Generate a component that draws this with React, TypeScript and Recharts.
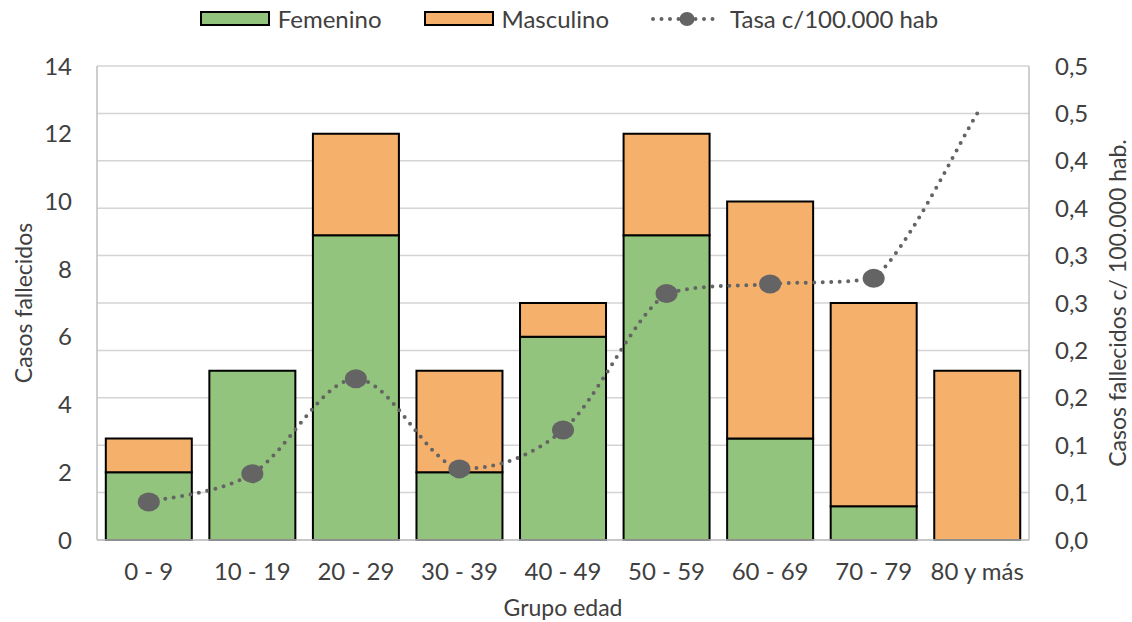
import React from 'react';
import { ComposedChart, Bar, Line, XAxis, YAxis, CartesianGrid, Legend, Label } from 'recharts';

const categories = ['0 - 9', '10 - 19', '20 - 29', '30 - 39', '40 - 49', '50 - 59', '60 - 69', '70 - 79', '80 y más'];
const femenino = [2, 5, 9, 2, 6, 9, 3, 1, 0];
const masculino = [1, 0, 3, 3, 1, 3, 7, 6, 5];
const tasa = [0.04, 0.07, 0.17, 0.075, 0.116, 0.26, 0.27, 0.276, 0.45];
const leftTicks = [0, 2, 4, 6, 8, 10, 12, 14];
const rightTicks = [0, 0.05, 0.1, 0.15, 0.2, 0.25, 0.3, 0.35, 0.4, 0.45, 0.5];

const data = categories.map((grupo, i) => ({
  grupo,
  femenino: femenino[i],
  masculino: masculino[i],
  tasa: tasa[i],
}));

const GREEN = '#93C47D';
const ORANGE = '#F5B06C';
const GRAY_LINE = '#646464';
const TEXT = '#404040';
const FONT = 'Lato, "DejaVu Sans", sans-serif';

const clamp = (v: number, a: number, b: number) => Math.max(Math.min(a, b), Math.min(Math.max(a, b), v));

// Catmull-Rom style smoothing (similar to Excel smoothed lines), without vertical overshoot
const smoothCurve: any = (context: any) => {
  let pts: number[][] = [];
  return {
    areaStart() {},
    areaEnd() {},
    lineStart() {
      pts = [];
    },
    point(x: number, y: number) {
      pts.push([x, y]);
    },
    lineEnd() {
      if (!pts.length) return;
      context.moveTo(pts[0][0], pts[0][1]);
      const t = 1 / 6;
      for (let i = 0; i < pts.length - 1; i++) {
        const p0 = pts[i - 1] || pts[i];
        const p1 = pts[i];
        const p2 = pts[i + 1];
        const p3 = pts[i + 2] || p2;
        const c1y = clamp(p1[1] + (p2[1] - p0[1]) * t, p1[1], p2[1]);
        const c2y = clamp(p2[1] - (p3[1] - p1[1]) * t, p1[1], p2[1]);
        context.bezierCurveTo(
          p1[0] + (p2[0] - p0[0]) * t,
          c1y,
          p2[0] - (p3[0] - p1[0]) * t,
          c2y,
          p2[0],
          p2[1]
        );
      }
    },
  };
};

const renderDot = (props: any) => {
  const { cx, cy, index } = props;
  if (index === tasa.length - 1 || cx == null || cy == null) return <g key={`d${index}`} />;
  return <ellipse key={`d${index}`} cx={cx} cy={cy} rx={11} ry={9.5} fill={GRAY_LINE} />;
};

const fmtRight = (v: number) => (Math.round(v * 10 + 1e-6) / 10).toFixed(1).replace('.', ',');

const renderLegend = (props: any) => {
  const { payload } = props;
  return (
    <div
      style={{
        position: 'absolute',
        top: 4,
        left: 0,
        width: 1132,
        paddingLeft: 6,
        boxSizing: 'border-box',
        display: 'flex',
        justifyContent: 'center',
        alignItems: 'center',
        fontFamily: FONT,
        fontSize: 24,
        color: TEXT,
        whiteSpace: 'nowrap',
      }}
    >
      {(payload || []).map((entry: any, i: number) => {
        const isLine = entry.dataKey === 'tasa';
        return (
          <div key={i} style={{ display: 'flex', alignItems: 'center', marginRight: i < payload.length - 1 ? 42 : 0 }}>
            {isLine ? (
              <svg width={67} height={20} style={{ marginRight: 12 }}>
                <line x1={2} y1={10} x2={66} y2={10} stroke={GRAY_LINE} strokeWidth={4} strokeDasharray="0 8.5" strokeLinecap="round" />
                <ellipse cx={36} cy={10} rx={7.5} ry={7} fill={GRAY_LINE} />
              </svg>
            ) : (
              <div
                style={{
                  width: 70,
                  height: 15,
                  boxSizing: 'border-box',
                  border: '2px solid #000',
                  background: entry.color,
                  marginRight: 8,
                }}
              />
            )}
            <span>{entry.value}</span>
          </div>
        );
      })}
    </div>
  );
};

export default function App() {
  return (
    <div style={{ position: 'absolute', left: 0, top: 0, width: 1132, height: 622, background: '#fff' }}>
      <ComposedChart
        width={1132}
        height={622}
        data={data}
        margin={{ top: 66, right: 0, bottom: 0, left: 0 }}
        barCategoryGap="8.5%"
      >
        <CartesianGrid yAxisId="right" vertical={false} stroke="#d4d4d4" strokeWidth={1.5} />
        <XAxis
          dataKey="grupo"
          height={82}
          tickLine={false}
          tickSize={0}
          tickMargin={23}
          axisLine={{ stroke: '#bfbfbf', strokeWidth: 1.5 }}
          tick={{ fill: TEXT, fontSize: 24, fontFamily: FONT }}
          interval={0}
        >
          <Label
            content={(p: any) => {
              const vb = p.viewBox || {};
              return (
                <text
                  x={vb.x + vb.width / 2}
                  y={vb.y + 67}
                  textAnchor="middle"
                  dominantBaseline="central"
                  fill={TEXT}
                  fontSize={23}
                  fontFamily={FONT}
                >
                  Grupo edad
                </text>
              );
            }}
          />
        </XAxis>
        <YAxis
          yAxisId="left"
          orientation="left"
          width={97}
          domain={[0, 14]}
          ticks={leftTicks}
          interval={0}
          tickLine={false}
          tickSize={0}
          tickMargin={25}
          axisLine={{ stroke: '#bfbfbf', strokeWidth: 1.5 }}
          tick={{ fill: TEXT, fontSize: 24, fontFamily: FONT }}
        >
          <Label
            content={(p: any) => {
              const vb = p.viewBox || {};
              const cx = vb.x + 23;
              const cy = vb.y + vb.height / 2;
              return (
                <text
                  x={cx}
                  y={cy}
                  transform={`rotate(-90 ${cx} ${cy})`}
                  textAnchor="middle"
                  dominantBaseline="central"
                  fill={TEXT}
                  fontSize={23}
                  fontFamily={FONT}
                >
                  Casos fallecidos
                </text>
              );
            }}
          />
        </YAxis>
        <YAxis
          yAxisId="right"
          orientation="right"
          width={103}
          domain={[0, 0.5]}
          ticks={rightTicks}
          interval={0}
          tickLine={false}
          tickSize={0}
          tickMargin={26}
          tickFormatter={fmtRight}
          axisLine={{ stroke: '#bfbfbf', strokeWidth: 1.5 }}
          tick={{ fill: TEXT, fontSize: 24, fontFamily: FONT, textAnchor: 'start' }}
        >
          <Label
            content={(p: any) => {
              const vb = p.viewBox || {};
              const cx = vb.x + 88;
              const cy = vb.y + vb.height / 2;
              return (
                <text
                  x={cx}
                  y={cy}
                  transform={`rotate(-90 ${cx} ${cy})`}
                  textAnchor="middle"
                  dominantBaseline="central"
                  fill={TEXT}
                  fontSize={23}
                  fontFamily={FONT}
                >
                  Casos fallecidos c/ 100.000 hab.
                </text>
              );
            }}
          />
        </YAxis>
        <Legend
          verticalAlign="top"
          content={renderLegend}
          wrapperStyle={{ position: 'absolute', top: 0, left: 0, width: 1132, height: 0 }}
        />
        <Bar
          yAxisId="left"
          dataKey="femenino"
          name="Femenino"
          stackId="a"
          fill={GREEN}
          stroke="#000"
          strokeWidth={2}
          isAnimationActive={false}
        />
        <Bar
          yAxisId="left"
          dataKey="masculino"
          name="Masculino"
          stackId="a"
          fill={ORANGE}
          stroke="#000"
          strokeWidth={2}
          isAnimationActive={false}
        />
        <Line
          yAxisId="right"
          dataKey="tasa"
          name="Tasa c/100.000 hab"
          type={smoothCurve}
          stroke={GRAY_LINE}
          strokeWidth={4}
          strokeDasharray="0 8.5"
          strokeLinecap="round"
          dot={renderDot}
          activeDot={false}
          legendType="circle"
          isAnimationActive={false}
        />
      </ComposedChart>
    </div>
  );
}
